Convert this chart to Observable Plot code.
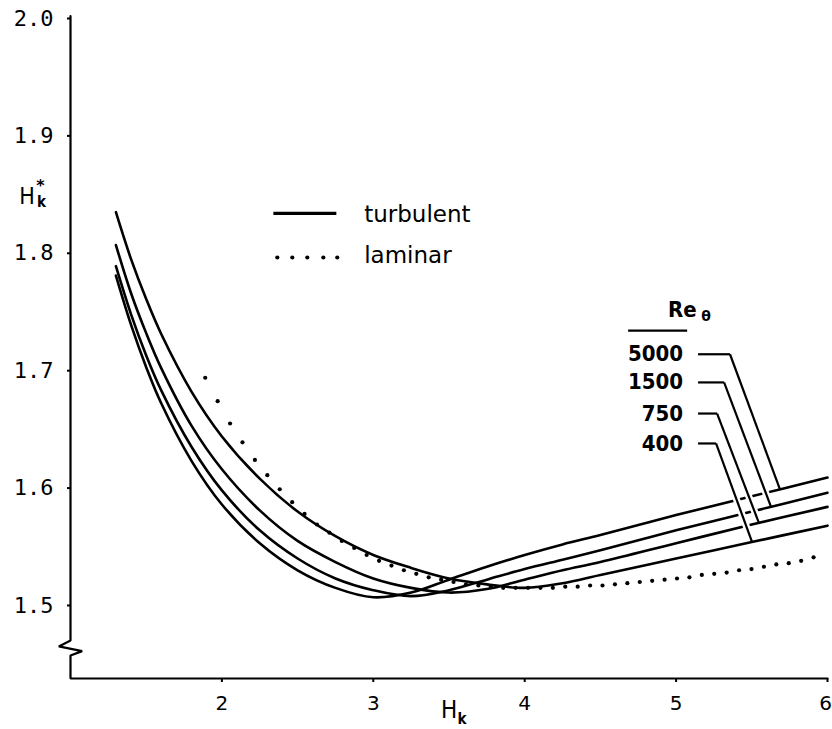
<!DOCTYPE html>
<html><head><meta charset="utf-8">
<script src="https://cdn.jsdelivr.net/npm/d3@7"></script>
<script src="https://cdn.jsdelivr.net/npm/@observablehq/plot@0.6"></script>
<style>
html,body{margin:0;padding:0;background:#fff;}
#chart svg{display:block;}
</style>
</head><body><div id="chart"></div>
<script>
// ---- data ----
const hk = [1.3,1.4,1.5,1.6,1.8,2.0,2.25,2.5,2.75,3.0,3.25,3.5,3.75,4.0,4.25,4.5,5.0,5.5,6.0];
const re400  = [1.835,1.795,1.761,1.731,1.682,1.644,1.608,1.580,1.559,1.543,1.532,1.523,1.518,1.515,1.519,1.526,1.540,1.554,1.568];
const re750  = [1.807,1.766,1.732,1.702,1.653,1.616,1.581,1.555,1.537,1.523,1.515,1.511,1.514,1.522,1.530,1.537,1.553,1.569,1.584];
const re1500 = [1.789,1.748,1.713,1.683,1.635,1.598,1.564,1.540,1.523,1.513,1.508,1.513,1.522,1.531,1.539,1.547,1.564,1.580,1.596];
const re5000 = [1.781,1.739,1.703,1.672,1.623,1.586,1.553,1.530,1.515,1.507,1.511,1.522,1.533,1.543,1.552,1.560,1.577,1.593,1.609];
const seriesNames = ["400","750","1500","5000"];

const lamHk = [1.890,1.972,2.054,2.136,2.218,2.300,2.382,2.464,2.546,2.628,2.710,2.792,2.874,2.956,3.038,3.120,3.202,3.284,3.366,3.448,3.530,3.612,3.694,3.776,3.858,3.940,4.022,4.104,4.186,4.268,4.350,4.432,4.514,4.596,4.678,4.760,4.842,4.924,5.006,5.088,5.170,5.252,5.334,5.416,5.498,5.580,5.662,5.744,5.826,5.908];
const lamHs = [1.694,1.674,1.655,1.639,1.624,1.611,1.599,1.588,1.578,1.569,1.562,1.555,1.549,1.543,1.538,1.534,1.530,1.527,1.524,1.522,1.520,1.518,1.517,1.516,1.515,1.515,1.515,1.515,1.515,1.516,1.516,1.517,1.517,1.518,1.519,1.520,1.521,1.522,1.523,1.524,1.526,1.527,1.528,1.530,1.531,1.533,1.535,1.536,1.538,1.541];

const xTicks = [2,3,4,5,6];
const yTicks = [1.5,1.6,1.7,1.8,1.9,2.0];

// Re_theta labels and leader lines
const reLabels   = ["5000","1500","750","400"];
const reLabelY   = [1.714,1.690,1.6635,1.638];
const reLabelHk  = 5.046;
const leaderStartHk = 5.145;
const leaderBendHk  = [5.356,5.317,5.271,5.264];
const leaderEndHk   = [5.686,5.627,5.548,5.502];
const leaderEndHs   = [1.599,1.584,1.570,1.554];
const reHeader = {text:"Re", hk:4.947, hs:1.7521, subText:"θ", subHk:5.198, subHs:1.7462};
const reRule = {hk1:4.683, hk2:5.073, hs:1.7342};

// legend
const legendLabels = ["turbulent","laminar"];
const legendLabelHk = 2.94;
const legendLabelHs = [1.833,1.798];
const legendLineHk = [2.34,2.756];
const legendLineHs = 1.834;
const legendDotHk = [2.366,2.465,2.564,2.670,2.762];
const legendDotHs = 1.7964;

// axis frame with break symbol on the y axis
const axisFrameHk = [1,1,0.923,1.077,1,1,6];
const axisFrameHs = [2.002,1.4702,1.4651,1.4611,1.4574,1.4378,1.4378];

// ---- build tables ----
const turb = [];
[re400,re750,re1500,re5000].forEach((arr,i)=>arr.forEach((v,j)=>turb.push({re:seriesNames[i],hk:hk[j],hs:v})));
const lam = lamHk.map((h,i)=>({hk:h,hs:lamHs[i]}));
const leaders = reLabels.map((t,i)=>({re:t,y:reLabelY[i],bend:leaderBendHk[i],endH:leaderEndHk[i],endV:leaderEndHs[i]}));
const axisFrame = axisFrameHk.map((h,i)=>({hk:h,hs:axisFrameHs[i]}));
const legendTexts = legendLabels.map((t,i)=>({t,hk:legendLabelHk,hs:legendLabelHs[i]}));
const legendDots = legendDotHk.map(h=>({hk:h,hs:legendDotHs}));
const lastTick = xTicks[xTicks.length-1];

const chart = Plot.plot({
  width: 832, height: 729,
  marginLeft: 70, marginRight: 5, marginTop: 18, marginBottom: 51,
  x: {domain:[1,6], axis:null},
  y: {domain:[1.4378,2.0], axis:null},
  style: {background:"#fff", color:"#000", fontFamily:"DejaVu Sans"},
  marks: [
    Plot.line(axisFrame, {x:"hk", y:"hs", stroke:"#000", strokeWidth:2.2, strokeLinejoin:"miter"}),
    Plot.axisX({ticks:xTicks, tickSize:4, tickPadding:13, tickFormat:()=>"", label:null, strokeWidth:2}),
    Plot.text(xTicks.filter(t=>t!==lastTick), {x:d=>d, text:d=>String(d), frameAnchor:"bottom", dy:17, lineAnchor:"top",
      fontSize:20, fontFamily:"DejaVu Sans", fill:"#000"}),
    Plot.text([lastTick], {x:d=>d, text:d=>String(d), frameAnchor:"bottom", dy:17, dx:-2, lineAnchor:"top",
      fontSize:20, fontFamily:"DejaVu Sans", fill:"#000"}),
    Plot.axisY({ticks:yTicks, tickSize:3, tickPadding:14, tickFormat:d=>d.toFixed(1), label:null,
      fontSize:22, fontFamily:"DejaVu Sans Mono", strokeWidth:2}),
    // turbulent curves
    Plot.line(turb, {x:"hk", y:"hs", z:"re", curve:"catmull-rom", stroke:"#000", strokeWidth:2.6}),
    // laminar dots
    Plot.dot(lam, {x:"hk", y:"hs", r:2.1, fill:"#000", stroke:null}),
    // white halos to open the curves where leaders cross
    Plot.link(leaders, {x1:"bend", y1:"y", x2:d=>d.bend+(d.endH-d.bend)*0.92, y2:d=>d.y+(d.endV-d.y)*0.92,
      stroke:"#fff", strokeWidth:7, strokeLinecap:"butt"}),
    // leaders
    Plot.link(leaders, {x1:()=>leaderStartHk, y1:"y", x2:"bend", y2:"y", stroke:"#000", strokeWidth:2.2}),
    Plot.link(leaders, {x1:"bend", y1:"y", x2:"endH", y2:"endV", stroke:"#000", strokeWidth:2.2}),
    Plot.text(leaders, {x:()=>reLabelHk, y:"y", text:"re", textAnchor:"end", lineAnchor:"middle",
      fontSize:22, fontFamily:"DejaVu Sans Condensed", fontWeight:"bold", fill:"#000"}),
    // Re_theta header
    Plot.text([reHeader], {x:"hk", y:"hs", text:"text", textAnchor:"start", lineAnchor:"middle",
      fontSize:22, fontFamily:"DejaVu Sans Condensed", fontWeight:"bold", fill:"#000"}),
    Plot.text([reHeader], {x:"subHk", y:"subHs", text:"subText", textAnchor:"middle", lineAnchor:"middle",
      fontSize:14, fontFamily:"DejaVu Sans", fontWeight:"bold", fill:"#000"}),
    Plot.link([reRule], {x1:"hk1", y1:"hs", x2:"hk2", y2:"hs", stroke:"#000", strokeWidth:2.2}),
    // legend
    Plot.link([legendLineHk], {x1:d=>d[0], x2:d=>d[1], y1:()=>legendLineHs, y2:()=>legendLineHs, stroke:"#000", strokeWidth:3.2}),
    Plot.dot(legendDots, {x:"hk", y:"hs", r:2.1, fill:"#000", stroke:null}),
    Plot.text(legendTexts, {x:"hk", y:"hs", text:"t", textAnchor:"start", lineAnchor:"middle",
      fontSize:23, fontFamily:"DejaVu Sans", fill:"#000"}),
    // axis titles
    Plot.text(["H"], {frameAnchor:"bottom", text:d=>d, dx:0, dy:32, textAnchor:"middle", lineAnchor:"middle",
      fontSize:24, fontFamily:"DejaVu Sans Condensed", fill:"#000"}),
    Plot.text(["k"], {frameAnchor:"bottom", text:d=>d, dx:13, dy:41, textAnchor:"middle", lineAnchor:"middle",
      fontSize:15, fontFamily:"DejaVu Sans Condensed", fontWeight:"bold", fill:"#000"}),
    Plot.text(["H"], {frameAnchor:"top-left", text:d=>d, dx:-43.5, dy:178.5, textAnchor:"middle", lineAnchor:"middle",
      fontSize:23, fontFamily:"DejaVu Sans Condensed", fill:"#000"}),
    Plot.text(["*"], {frameAnchor:"top-left", text:d=>d, dx:-30, dy:167, textAnchor:"middle", lineAnchor:"middle",
      fontSize:16, fontFamily:"DejaVu Sans", fontWeight:"bold", fill:"#000"}),
    Plot.text(["k"], {frameAnchor:"top-left", text:d=>d, dx:-29, dy:184, textAnchor:"middle", lineAnchor:"middle",
      fontSize:15, fontFamily:"DejaVu Sans Condensed", fontWeight:"bold", fill:"#000"})
  ]
});
document.getElementById("chart").appendChild(chart);
</script>
</body></html>
